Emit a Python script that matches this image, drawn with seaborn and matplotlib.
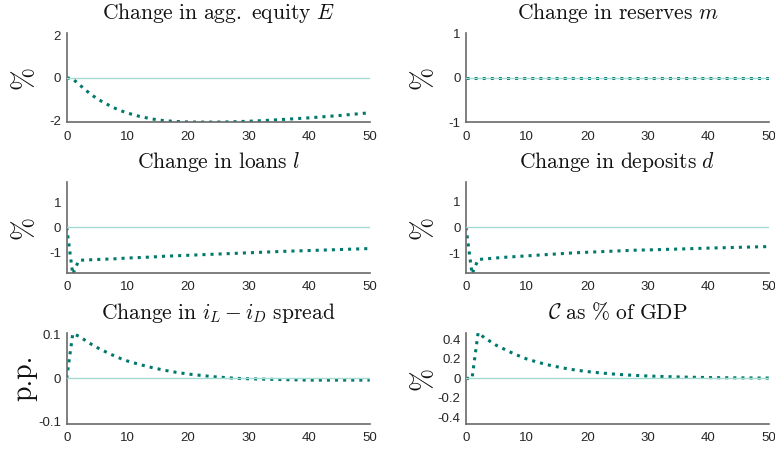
"""Impulse responses to a shock: six panels in MATLAB-like style."""
import numpy as np
import pandas as pd
import matplotlib
matplotlib.use('Agg')
import matplotlib.pyplot as plt
import seaborn as sns

t = [0, 1, 2, 3, 4, 5, 6, 7, 8, 9, 10, 12, 14, 16, 18, 20, 22, 24, 26, 28, 30, 33, 36, 40, 45, 50]

equity = [0, -0.05, -0.30, -0.55, -0.78, -0.98, -1.15, -1.30, -1.44, -1.56, -1.66, -1.82, -1.94,
          -2.02, -2.06, -2.085, -2.09, -2.09, -2.085, -2.07, -2.05, -2.01, -1.96, -1.89, -1.78, -1.65]
reserves = [0] * len(t)
loans = [0, -1.88, -1.32, -1.31, -1.30, -1.29, -1.28, -1.27, -1.26, -1.245, -1.23, -1.21, -1.19,
         -1.16, -1.14, -1.12, -1.10, -1.08, -1.06, -1.04, -1.02, -0.99, -0.96, -0.93, -0.89, -0.85]
deposits = [0, -1.80, -1.24, -1.22, -1.20, -1.18, -1.16, -1.145, -1.13, -1.115, -1.10, -1.07, -1.04,
            -1.01, -0.98, -0.96, -0.94, -0.92, -0.90, -0.88, -0.87, -0.85, -0.83, -0.80, -0.77, -0.74]
spread = [0, 0.103, 0.097, 0.088, 0.079, 0.071, 0.064, 0.057, 0.051, 0.045, 0.040, 0.032, 0.025,
          0.019, 0.014, 0.010, 0.007, 0.004, 0.002, 0.0, -0.001, -0.002, -0.003, -0.004, -0.004, -0.004]
cost_gdp = [0, 0, 0.47, 0.42, 0.38, 0.34, 0.31, 0.28, 0.25, 0.225, 0.20, 0.163, 0.132,
            0.107, 0.086, 0.070, 0.057, 0.046, 0.037, 0.030, 0.024, 0.018, 0.013, 0.008, 0.005, 0.003]

titles = [r'$\mathrm{Change\ in\ agg.\ equity\ }E$',
          r'$\mathrm{Change\ in\ reserves\ }m$',
          r'$\mathrm{Change\ in\ loans\ }l$',
          r'$\mathrm{Change\ in\ deposits\ }d$',
          r'$\mathrm{Change\ in\ }i_L - i_D\mathrm{\ spread}$',
          r'$\mathcal{C}\mathrm{\ as\ \%\ of\ GDP}$']
ylabels = ['%', '%', '%', '%', 'p.p.', '%']
ylims = [2.1, 1.0, 1.83, 1.76, 0.105, 0.47]
yticks = [[-2, 0, 2], [-1, 0, 1], [-1, 0, 1], [-1, 0, 1], [-0.1, 0, 0.1], [-0.4, -0.2, 0, 0.2, 0.4]]
xticks = [0, 10, 20, 30, 40, 50]

series = [equity, reserves, loans, deposits, spread, cost_gdp]

LINE = '#00786c'
ZERO = '#a3dad2'
SPINE = '#6a6a6a'

sns.set_theme(style='white')
plt.rcParams['font.family'] = ['Liberation Sans', 'DejaVu Sans']
plt.rcParams['mathtext.fontset'] = 'cm'

fig = plt.figure(figsize=(7.75, 4.5), dpi=100)
W, H = 775, 450
lefts = [66.7, 466]
rows = [(33.3, 122.3), (181.7, 273.0), (332.7, 424.0)]
width = 303

for i, vals in enumerate(series):
    r, c = divmod(i, 2)
    top, bot = rows[r]
    ax = fig.add_axes([lefts[c] / W, 1 - bot / H, width / W, (bot - top) / H])
    df = pd.DataFrame({'t': t, 'v': vals})
    sns.lineplot(data=df, x='t', y='v', ax=ax, color=LINE, linestyle=':', linewidth=2.2, zorder=2)
    ax.axhline(0, color=ZERO, linewidth=1.0, zorder=3)

    ax.set_xlim(0, 50)
    ax.set_ylim(-ylims[i], ylims[i])
    ax.set_xticks(xticks)
    ax.set_yticks(yticks[i])
    ax.set_xticklabels([str(x) for x in xticks])
    ax.set_yticklabels(['%g' % y for y in yticks[i]])
    ax.tick_params(direction='in', length=3, width=1, color=SPINE, labelsize=9.5,
                   labelcolor='#262626', pad=4)
    ax.tick_params(axis='x', pad=6)
    for side in ['top', 'right']:
        ax.spines[side].set_visible(False)
    for side in ['left', 'bottom']:
        ax.spines[side].set_color(SPINE)
        ax.spines[side].set_linewidth(1.2)
    ax.set_xlabel('')
    ax.set_ylabel(ylabels[i], fontsize=20, color='#111111', fontfamily='cmr10')
    ax.yaxis.set_label_coords(-0.097, 0.5)
    ax.set_title(titles[i], fontsize=15.5, pad=10, color='#111111')

fig.savefig('out.png', dpi=100)
